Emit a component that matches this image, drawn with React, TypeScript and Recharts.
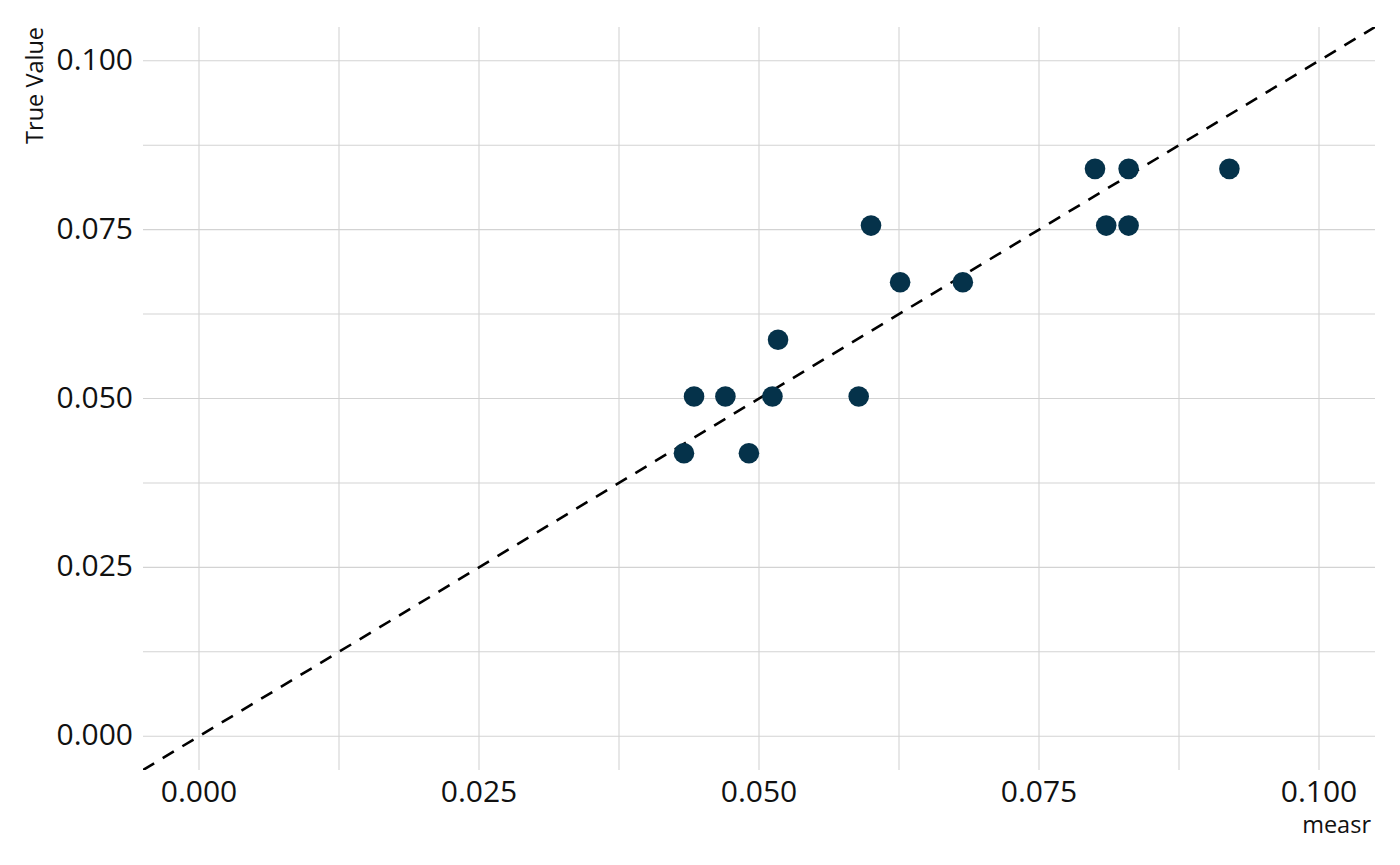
import React from "react";
import { ScatterChart, Scatter, XAxis, YAxis, CartesianGrid } from "recharts";

const measr = [0.0433, 0.0442, 0.047, 0.0491, 0.0512, 0.0517, 0.0589, 0.06, 0.0626, 0.0682, 0.08, 0.081, 0.083, 0.083, 0.092];
const trueValue = [0.0419, 0.0503, 0.0503, 0.0419, 0.0503, 0.0587, 0.0503, 0.0756, 0.0672, 0.0672, 0.084, 0.0756, 0.084, 0.0756, 0.084];

const majorTicks = [0, 0.025, 0.05, 0.075, 0.1];
const minorTicks = [0.0125, 0.0375, 0.0625, 0.0875];
const allTicks = [...majorTicks, ...minorTicks].sort((a, b) => a - b);

const identityX = [-0.005, 0.105];
const identityY = [-0.005, 0.105];

const domain: [number, number] = [-0.005, 0.105];

const points = measr.map((x, i) => ({ x, y: trueValue[i] }));
const identity = identityX.map((x, i) => ({ x, y: identityY[i] }));

const FONT = "'Open Sans', sans-serif";
const TICK_SIZE = 30;
const TITLE_SIZE = 23.5;

const isMajor = (v: number) => majorTicks.some((m) => Math.abs(m - v) < 1e-9);

const applyScale = (axis: any, v: number, start: number, size: number, invert: boolean) => {
  const s = axis && axis.scale;
  if (typeof s === "function") {
    const r = s(v);
    if (typeof r === "number" && !isNaN(r)) return r;
  }
  if (s && typeof s.map === "function") {
    const r = s.map(v);
    if (typeof r === "number" && !isNaN(r)) return r;
  }
  const t = (v - domain[0]) / (domain[1] - domain[0]);
  return invert ? start + size - t * size : start + t * size;
};

const vGen = (props: any) => {
  const { xAxis, offset } = props;
  return allTicks.map((v) => applyScale(xAxis, v, offset.left, offset.width, false));
};

const hGen = (props: any) => {
  const { yAxis, offset } = props;
  return allTicks.map((v) => applyScale(yAxis, v, offset.top, offset.height, true));
};

const XTick = (props: any) => {
  const { x, y, payload } = props;
  if (!isMajor(payload.value)) return null;
  return (
    <text x={x} y={y + 30} textAnchor="middle" fontFamily={FONT} fontSize={TICK_SIZE} fill="#111">
      {payload.value.toFixed(3)}
    </text>
  );
};

const YTick = (props: any) => {
  const { x, y, payload } = props;
  if (!isMajor(payload.value)) return null;
  return (
    <text x={x - 8} y={y + 9} textAnchor="end" fontFamily={FONT} fontSize={TICK_SIZE} fill="#111">
      {payload.value.toFixed(3)}
    </text>
  );
};

const Dot = (props: any) => {
  const { cx, cy } = props;
  return <circle cx={cx} cy={cy} r={10.3} fill="#05324a" />;
};

const NoShape = () => <g />;

export default function App() {
  return (
    <div style={{ position: "absolute", left: 0, top: 0, width: 1400, height: 865, background: "#fff" }}>
      <ScatterChart width={1400} height={865} margin={{ top: 27, right: 25, left: 0, bottom: 0 }}>
        <CartesianGrid
          stroke="#d3d3d3"
          strokeWidth={1.1}
          verticalCoordinatesGenerator={vGen}
          horizontalCoordinatesGenerator={hGen}
        />
        <XAxis
          type="number"
          dataKey="x"
          domain={domain}
          ticks={allTicks}
          allowDataOverflow
          axisLine={false}
          tickLine={false}
          tickSize={0}
          tick={<XTick />}
          height={95}
          interval={0}
        />
        <YAxis
          type="number"
          dataKey="y"
          domain={domain}
          ticks={allTicks}
          allowDataOverflow
          axisLine={false}
          tickLine={false}
          tickSize={0}
          tick={<YTick />}
          width={143}
          interval={0}
        />
        <Scatter
          data={identity}
          shape={<NoShape />}
          line={{ stroke: "#000", strokeWidth: 2.6, strokeDasharray: "13 10" }}
          lineType="joint"
          isAnimationActive={false}
        />
        <Scatter data={points} shape={<Dot />} isAnimationActive={false} />
        <text x={43} y={27} transform="rotate(-90 43 27)" textAnchor="end" fontFamily={FONT} fontSize={TITLE_SIZE} fill="#111">
          True Value
        </text>
        <text x={1371} y={833} textAnchor="end" fontFamily={FONT} fontSize={TITLE_SIZE} fill="#111">
          measr
        </text>
      </ScatterChart>
    </div>
  );
}
